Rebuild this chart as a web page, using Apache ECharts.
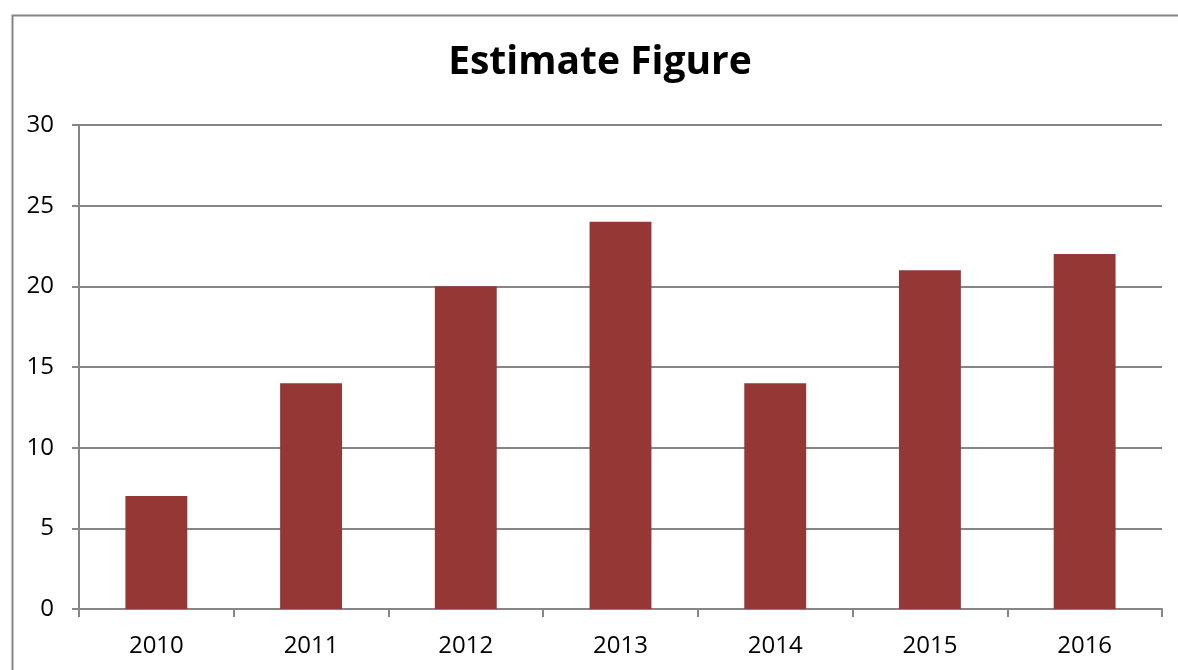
<!DOCTYPE html>
<html><head><meta charset="utf-8">
<script src="https://cdn.jsdelivr.net/npm/echarts@6/dist/echarts.min.js"></script>
<style>html,body{margin:0;padding:0;background:#fff;}#c{width:1178px;height:670px;}</style>
</head><body><div id="c"></div>
<script>
const categories = ['2010','2011','2012','2013','2014','2015','2016'];
const values = [7, 14, 20, 24, 14, 21, 22];
const yTicks = [0, 5, 10, 15, 20, 25, 30];
const titleText = 'Estimate Figure';

const chart = echarts.init(document.getElementById('c'));
const gray = '#868686';
const font = '"Open Sans", sans-serif';
chart.setOption({
  animation: false,
  backgroundColor: '#fff',
  graphic: [{
    type: 'rect', left: 10, top: 13, silent: true,
    shape: { width: 1200, height: 700 },
    style: { fill: 'none', stroke: gray, lineWidth: 2 }
  }, {
    type: 'text', x: 600, y: 63, silent: true,
    style: {
      text: titleText, fill: '#000', font: 'bold 39px "Open Sans", sans-serif',
      textAlign: 'center', textVerticalAlign: 'middle'
    }
  }],
  grid: { left: 79, right: 16, top: 125, bottom: 61, containLabel: false },
  xAxis: {
    type: 'category', data: categories, boundaryGap: true,
    axisLine: { show: true, lineStyle: { color: gray, width: 2 } },
    axisTick: { show: true, interval: 0, length: 8, lineStyle: { color: gray, width: 2 } },
    axisLabel: { fontFamily: font, fontSize: 24, color: '#000', margin: 25 }
  },
  yAxis: {
    type: 'value', min: yTicks[0], max: yTicks[yTicks.length - 1], interval: 5,
    axisLine: { show: true, lineStyle: { color: gray, width: 2 } },
    axisTick: { show: true, length: 7, lineStyle: { color: gray, width: 2 } },
    splitLine: { show: true, lineStyle: { color: gray, width: 2 } },
    axisLabel: { fontFamily: font, fontSize: 24, color: '#000', margin: 25 }
  },
  series: [{
    type: 'bar', data: values, barWidth: '40%',
    itemStyle: { color: '#953735' }
  }]
});
</script></body></html>
